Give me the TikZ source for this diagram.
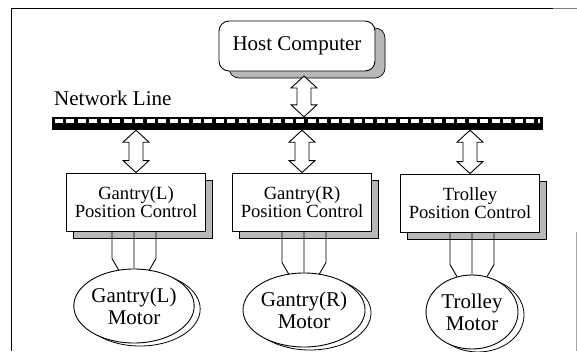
\documentclass[tikz,border=0pt]{standalone}
\usepackage{fontspec}
\newfontfamily\tms{LiberationSerif}[Extension=.ttf, UprightFont=*-Regular]
\usetikzlibrary{calc,shadows,shapes.geometric}
\newcommand\dblarrow[2]{%
  \draw[arr] let \p1=(#1), \p2=(#2) in
    (\x1,\y1) -- (\x1+13pt,\y1-12pt) -- (\x1+7pt,\y1-12pt) -- (\x1+7pt,\y2+12pt)
    -- (\x1+13pt,\y2+12pt) -- (\x1,\y2) -- (\x1-13pt,\y2+12pt) -- (\x1-7pt,\y2+12pt)
    -- (\x1-7pt,\y1-12pt) -- (\x1-13pt,\y1-12pt) -- cycle;}
\newcommand\motorwires[2]{%
  \draw[wire] let \p1=(#2.north), \p2=(#1.south) in
    (\x1-22pt,\y2) -- (\x1-22pt,\y1+10pt) -- (\x1-15pt,\y1-2pt)
    (\x1,\y2) -- (\x1,\y1)
    (\x1+22pt,\y2) -- (\x1+22pt,\y1+10pt) -- (\x1+15pt,\y1-2pt);}
\begin{document}
\begin{tikzpicture}[x=1pt,y=-1pt,
  bigfont/.style={font=\tms\fontsize{21}{22}\selectfont},
  hostbox/.style={draw, fill=white, rounded corners=10pt, minimum width=156pt,
    minimum height=50pt, line width=0.9pt, bigfont,
    general shadow={shadow xshift=10pt, shadow yshift=-7pt, fill=black!28, draw=black, line width=0.7pt}},
  ctrlbox/.style={draw, fill=white, minimum width=139pt, minimum height=58pt,
    align=center, line width=0.9pt, font=\tms\fontsize{18.6}{16}\selectfont,
    general shadow={shadow xshift=7pt, shadow yshift=-7pt, fill=black!28, draw=black, line width=0.7pt}},
  motorbox/.style={ellipse, draw, fill=white, minimum width=92pt, minimum height=74pt,
    inner sep=0pt, align=center, line width=0.9pt, bigfont,
    general shadow={shadow xshift=6pt, shadow yshift=-3pt, fill=white, draw=black, line width=0.8pt}},
  arr/.style={draw, fill=white, line width=0.9pt, line join=miter},
  wire/.style={line width=0.9pt}]
\useasboundingbox (0,0) rectangle (577,351);
% frame
\draw[line width=1pt] (11,351) -- (11,8) -- (553,8);
\draw[black!50, line width=0.8pt] (553,8) -- (577,8);
\draw[black!35, line width=0.8pt] (576,232) -- (576,351);
% host
\node[hostbox] (host) at (297,46) {Host Computer};
% network line
\node[anchor=west, inner sep=0pt, bigfont] (netlabel) at (54,98) {Network Line};
\node[fill=black, draw=none, minimum width=491pt, minimum height=13pt, inner sep=0pt] (bus) at (297.5,123.5) {};
\draw[white, line width=4.5pt, dash pattern=on 8pt off 3.5pt]
  ($(bus.north west)+(3,4)$) -- ($(bus.north east)+(-3,4)$);
% control boxes
\node[ctrlbox] (b1) at (136,202) {Gantry(L)\\Position Control};
\node[ctrlbox] (b2) at (302,202) {Gantry(R)\\Position Control};
\node[ctrlbox] (b3) at (470,203) {Trolley\\Position Control};
% motors
\node[motorbox] (m1) at (134,306) {Gantry(L)\\Motor};
\node[motorbox] (m2) at (304,310) {Gantry(R)\\Motor};
\node[motorbox] (m3) at (472,312) {Trolley\\Motor};
% arrows
\coordinate (a0t) at (304,76);
\dblarrow{a0t}{a0t |- bus.north}
\dblarrow{b1.north |- bus.south}{b1.north}
\dblarrow{b2.north |- bus.south}{b2.north}
\dblarrow{b3.north |- bus.south}{b3.north}
% wires
\motorwires{b1}{m1}
\motorwires{b2}{m2}
\motorwires{b3}{m3}
\end{tikzpicture}
\end{document}
